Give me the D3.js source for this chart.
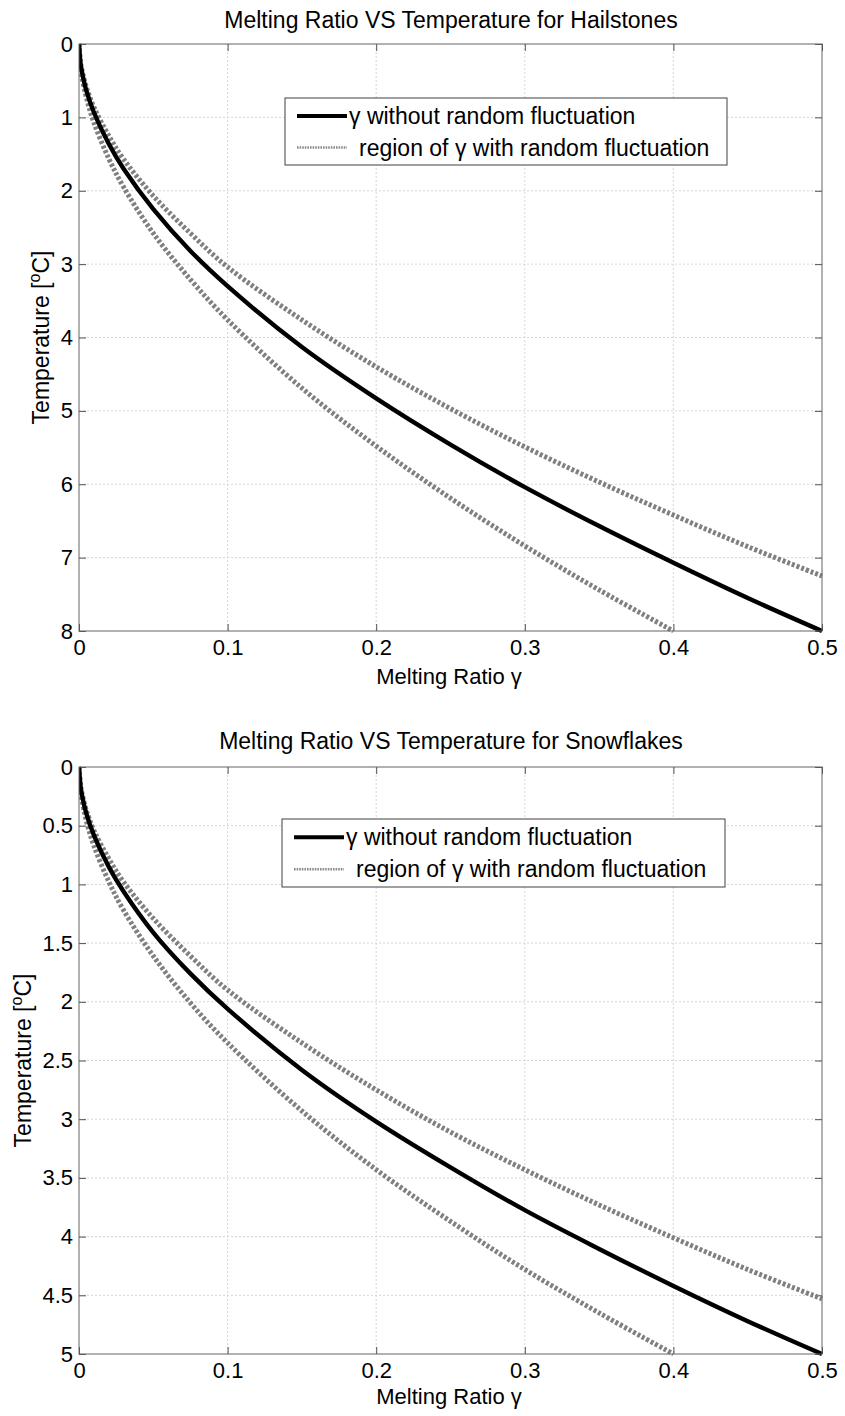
<!DOCTYPE html>
<html>
<head>
<meta charset="utf-8">
<script src="https://cdn.jsdelivr.net/npm/d3@7/dist/d3.min.js"></script>
<style>
  html, body { margin: 0; padding: 0; background: #fff; }
  svg { display: block; }
  text { font-family: "Liberation Sans", Arial, Helvetica, sans-serif; fill: #000; }
</style>
</head>
<body>
<svg id="chart" width="845" height="1416"></svg>
<script>
// Melting ratio samples (x axis)
const gamma = [0, 0.001, 0.002, 0.005, 0.01, 0.02, 0.03, 0.05, 0.075, 0.1, 0.15, 0.2, 0.25, 0.3, 0.35, 0.4, 0.45, 0.5];

// Hailstones: temperature [°C] reached at each melting ratio
const hailNominal = [0, 0.26, 0.38, 0.64, 0.93, 1.36, 1.70, 2.25, 2.82, 3.30, 4.13, 4.83, 5.46, 6.04, 6.57, 7.07, 7.55, 8.00];
const hailUpper   = [0, 0.245, 0.36, 0.59, 0.86, 1.25, 1.57, 2.07, 2.58, 3.04, 3.76, 4.40, 4.97, 5.49, 5.97, 6.42, 6.85, 7.25];
const hailLower   = [0, 0.31, 0.45, 0.73, 1.07, 1.56, 1.95, 2.58, 3.21, 3.76, 4.69, 5.48, 6.19, 6.84, 7.44, 8.00];

// Snowflakes
const snowNominal = [0, 0.16, 0.24, 0.40, 0.58, 0.85, 1.06, 1.41, 1.76, 2.06, 2.58, 3.02, 3.41, 3.775, 4.105, 4.42, 4.72, 5.00];
const snowUpper   = [0, 0.15, 0.225, 0.37, 0.54, 0.78, 0.98, 1.29, 1.61, 1.90, 2.35, 2.75, 3.11, 3.43, 3.73, 4.01, 4.28, 4.53];
const snowLower   = [0, 0.19, 0.28, 0.46, 0.67, 0.975, 1.22, 1.61, 2.01, 2.35, 2.93, 3.43, 3.87, 4.28, 4.65, 5.00];

// Tick labels
const xTicks = [0, 0.1, 0.2, 0.3, 0.4, 0.5];
const xTickLabels = ["0", "0.1", "0.2", "0.3", "0.4", "0.5"];
const hailYTicks = [0, 1, 2, 3, 4, 5, 6, 7, 8];
const hailYTickLabels = ["0", "1", "2", "3", "4", "5", "6", "7", "8"];
const snowYTicks = [0, 0.5, 1, 1.5, 2, 2.5, 3, 3.5, 4, 4.5, 5];
const snowYTickLabels = ["0", "0.5", "1", "1.5", "2", "2.5", "3", "3.5", "4", "4.5", "5"];

const legendLabels = ["without random fluctuation", "with random fluctuation"];

const svg = d3.select("#chart");

function drawPanel(cfg) {
  const { left, right, top, bottom } = cfg.box;
  const x = d3.scaleLinear().domain([0, 0.5]).range([left, right]);
  const y = d3.scaleLinear().domain([0, cfg.yMax]).range([top, bottom]);
  const g = svg.append("g");

  const clipId = "clip-" + cfg.id;
  svg.append("clipPath").attr("id", clipId)
    .append("rect").attr("x", left).attr("y", top - 2)
    .attr("width", right - left + 3).attr("height", bottom - top + 4);

  // grid
  const grid = g.append("g").attr("stroke", "#d6d6d6").attr("stroke-width", 1)
    .attr("stroke-dasharray", "2,2");
  xTicks.slice(1, -1).forEach(v => {
    grid.append("line").attr("x1", x(v)).attr("x2", x(v)).attr("y1", top).attr("y2", bottom);
  });
  cfg.yTicks.slice(1, -1).forEach(v => {
    grid.append("line").attr("x1", left).attr("x2", right).attr("y1", y(v)).attr("y2", y(v));
  });

  // axes with inward ticks
  const tickColor = "#505050";
  const fmtX = (d) => xTickLabels[xTicks.indexOf(d)];
  const fmtY = (d) => cfg.yTickLabels[cfg.yTicks.indexOf(d)];

  const axB = g.append("g").attr("transform", `translate(0,${bottom})`)
    .call(d3.axisBottom(x).tickValues(xTicks).tickFormat(fmtX).tickSize(-7).tickPadding(8));
  const axL = g.append("g").attr("transform", `translate(${left},0)`)
    .call(d3.axisLeft(y).tickValues(cfg.yTicks).tickFormat(fmtY).tickSize(-7).tickPadding(6));
  const axT = g.append("g").attr("transform", `translate(0,${top})`)
    .call(d3.axisTop(x).tickValues(xTicks).tickFormat("").tickSize(-7));
  const axR = g.append("g").attr("transform", `translate(${right},0)`)
    .call(d3.axisRight(y).tickValues(cfg.yTicks).tickFormat("").tickSize(-7));
  [axB, axL, axT, axR].forEach(a => {
    a.select(".domain").remove();
    a.selectAll(".tick line").attr("stroke", tickColor);
    a.selectAll(".tick text").attr("font-size", 22).attr("fill", "#000")
      .style("font-family", '"Liberation Sans", Arial, sans-serif');
  });

  // curves
  const curves = g.append("g").attr("clip-path", `url(#${clipId})`);
  const line = d3.line().x(d => x(d[0])).y(d => y(d[1])).curve(d3.curveCatmullRom.alpha(0.5));
  const pts = (vals) => vals.map((v, i) => [gamma[i], v]);

  [cfg.upper, cfg.lower].forEach(vals => {
    curves.append("path").datum(pts(vals)).attr("d", line)
      .attr("fill", "none").attr("stroke", "#808080").attr("stroke-width", 5)
      .attr("stroke-dasharray", "3,2");
  });
  curves.append("path").datum(pts(cfg.nominal)).attr("d", line)
    .attr("fill", "none").attr("stroke", "#000").attr("stroke-width", 4.4);

  // frame
  g.append("rect").attr("x", left).attr("y", top)
    .attr("width", right - left).attr("height", bottom - top)
    .attr("fill", "none").attr("stroke", "#646464").attr("stroke-width", 1);

  // title and axis labels
  svg.append("text").attr("x", 451).attr("y", cfg.titleY)
    .attr("text-anchor", "middle").attr("font-size", 23).text(cfg.title);

  const xl = svg.append("text").attr("x", 449).attr("y", cfg.xLabelY)
    .attr("text-anchor", "middle").attr("font-size", 22);
  xl.append("tspan").text("Melting Ratio ");
  xl.append("tspan").text("γ");

  const yl = svg.append("text")
    .attr("transform", `translate(${cfg.yLabelX},${(top + bottom) / 2}) rotate(-90)`)
    .attr("text-anchor", "middle").attr("font-size", 23);
  yl.append("tspan").text("Temperature [");
  yl.append("tspan").attr("font-size", 16).attr("dy", -9).text("o");
  yl.append("tspan").attr("dy", 9).text("C]");

  // legend
  const L = cfg.legend;
  const lg = svg.append("g");
  lg.append("rect").attr("x", L.x).attr("y", L.y).attr("width", L.w).attr("height", L.h)
    .attr("fill", "#fff").attr("stroke", "#404040").attr("stroke-width", 1);
  const r1 = L.y + L.h * 0.27, r2 = L.y + L.h * 0.74;
  lg.append("line").attr("x1", L.x + 12).attr("x2", L.x + 62).attr("y1", r1).attr("y2", r1)
    .attr("stroke", "#000").attr("stroke-width", 4);
  lg.append("line").attr("x1", L.x + 12).attr("x2", L.x + 62).attr("y1", r2).attr("y2", r2)
    .attr("stroke", "#8a8a8a").attr("stroke-width", 2.5).attr("stroke-dasharray", "1.6,1");
  const t1 = lg.append("text").attr("x", L.x + 64).attr("y", r1 + 8).attr("font-size", 23);
  t1.append("tspan").text("γ ");
  t1.append("tspan").text(legendLabels[0]);
  const t2 = lg.append("text").attr("x", L.x + 74).attr("y", r2 + 8).attr("font-size", 23);
  t2.append("tspan").text("region of ");
  t2.append("tspan").text("γ");
  t2.append("tspan").text(" " + legendLabels[1]);
}

drawPanel({
  id: "hail",
  box: { left: 79, right: 822, top: 44, bottom: 631 },
  yMax: 8, yTicks: hailYTicks, yTickLabels: hailYTickLabels,
  nominal: hailNominal, upper: hailUpper, lower: hailLower,
  title: "Melting Ratio VS Temperature for Hailstones",
  titleY: 28, xLabelY: 684, yLabelX: 49,
  legend: { x: 285, y: 98, w: 442, h: 67 }
});

drawPanel({
  id: "snow",
  box: { left: 79, right: 822, top: 767, bottom: 1354 },
  yMax: 5, yTicks: snowYTicks, yTickLabels: snowYTickLabels,
  nominal: snowNominal, upper: snowUpper, lower: snowLower,
  title: "Melting Ratio VS Temperature for Snowflakes",
  titleY: 749, xLabelY: 1404, yLabelX: 31,
  legend: { x: 282, y: 819, w: 443, h: 68 }
});
</script>
</body>
</html>
